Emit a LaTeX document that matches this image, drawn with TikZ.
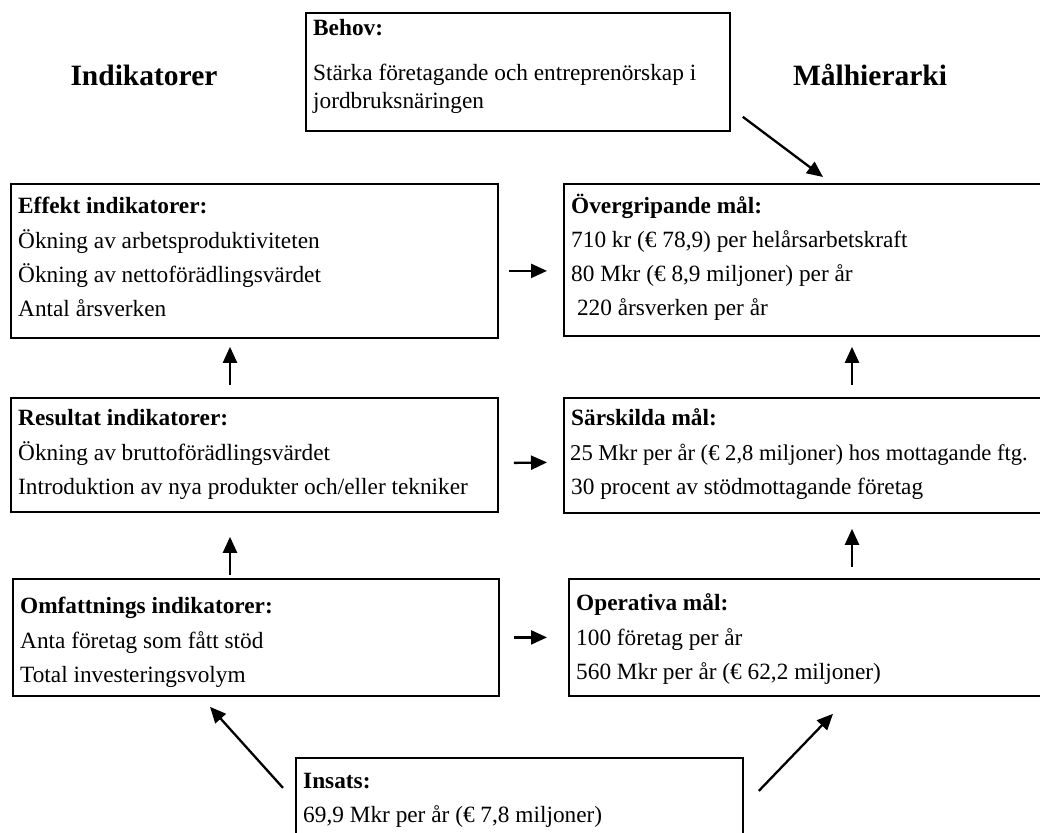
\documentclass[tikz,border=0pt]{standalone}
\usepackage{fontspec}
\setmainfont{Liberation Serif}
\usetikzlibrary{arrows.meta,calc}
\newcommand\bodyfont{\fontsize{23.3}{27}\selectfont}
\newcommand\titlefont{\fontsize{29.5}{33}\selectfont\bfseries}
\tikzset{
  box/.style={draw, line width=1.8pt, rectangle, anchor=north west, inner sep=0pt},
  txt/.style={anchor=west, inner sep=0pt, text height=16pt, text depth=5pt, font=\bodyfont},
  hd/.style={txt, font=\bodyfont\bfseries},
  ttl/.style={inner sep=0pt, font=\titlefont},
  arr/.style={line width=2.3pt, -{Triangle[length=16pt,width=14pt]}}
}
\begin{document}
\begin{tikzpicture}[x=1pt,y=-1pt]
\clip (0,0) rectangle (1040,832);
\fill[white] (0,0) rectangle (1040,832);

% titles
\node[ttl] (tind) at (144,75) {Indikatorer};
\node[ttl] (tmal) at (870,75) {Målhierarki};

% Behov
\node[box, minimum width=424, minimum height=118] (behov) at (305,12) {};
\node[hd] (behovh) at (313,30) {Behov:};
\node[txt] (behov1) at (313,75) {Stärka företagande och entreprenörskap i};
\node[txt] (behov2) at (313,103) {jordbruksnäringen};

% Effekt
\node[box, minimum width=487, minimum height=154] (effekt) at (10,183) {};
\node[hd] (effh) at (18,208) {Effekt indikatorer:};
\node[txt] (eff1) at (18,243) {Ökning av arbetsproduktiviteten};
\node[txt] (eff2) at (18,277) {Ökning av nettoförädlingsvärdet};
\node[txt] (eff3) at (18,311) {Antal årsverken};

% Resultat
\node[box, minimum width=487, minimum height=114] (resultat) at (10,397) {};
\node[hd] (resh) at (18,420) {Resultat indikatorer:};
\node[txt] (res1) at (18,455) {Ökning av bruttoförädlingsvärdet};
\node[txt] (res2) at (18,489) {Introduktion av nya produkter och/eller tekniker};

% Omfattnings
\node[box, minimum width=486, minimum height=117] (omf) at (12,578) {};
\node[hd] (omfh) at (20,608) {Omfattnings indikatorer:};
\node[txt] (omf1) at (20,643) {Anta företag som fått stöd};
\node[txt] (omf2) at (20,677) {Total investeringsvolym};

% Overgripande
\node[box, minimum width=500, minimum height=152] (over) at (563,183) {};
\node[hd] (overh) at (571,208) {Övergripande mål:};
\node[txt] (over1) at (571,242) {710 kr (€ 78,9) per helårsarbetskraft};
\node[txt] (over2) at (571,276) {80 Mkr (€ 8,9 miljoner) per år};
\node[txt] (over3) at (571,310) {\ 220 årsverken per år};

% Sarskilda
\node[box, minimum width=500, minimum height=115] (sars) at (563,397) {};
\node[hd] (sarsh) at (571,420) {Särskilda mål:};
\node[txt, font=\fontsize{22.6}{27}\selectfont] (sars1) at (570,455) {25 Mkr per år (€ 2,8 miljoner) hos mottagande ftg.};
\node[txt] (sars2) at (571,489) {30 procent av stödmottagande företag};

% Operativa
\node[box, minimum width=500, minimum height=117] (oper) at (568,578) {};
\node[hd] (operh) at (576,605) {Operativa mål:};
\node[txt] (oper1) at (576,640) {100 företag per år};
\node[txt] (oper2) at (576,674) {560 Mkr per år (€ 62,2 miljoner)};

% Insats
\node[box, minimum width=447, minimum height=100] (insats) at (295,757) {};
\node[hd] (insh) at (303,783) {Insats:};
\node[txt] (ins1) at (303,817) {69,9 Mkr per år (€ 7,8 miljoner)};

% arrows
\draw[arr] ($(behov.south east)+(12,-15)$) -- ($(over.north west)+(260,-6)$);
\draw[arr] ($(effekt.east)+(10,10)$) -- ($(over.west)+(-16,11)$);
\draw[arr] ($(resultat.east)+(15,8)$) -- ($(sars.west)+(-16,7)$);
\draw[arr] ($(omf.east)+(14,0)$) -- ($(oper.west)+(-21,0)$);
\draw[arr] ($(resultat.north west)+(220,-12)$) -- ($(effekt.south west)+(220,8)$);
\draw[arr] ($(omf.north west)+(218,-3)$) -- ($(resultat.south west)+(220,24)$);
\draw[arr] ($(sars.north west)+(289,-12)$) -- ($(over.south west)+(289,10)$);
\draw[arr] ($(oper.north west)+(284,-11)$) -- ($(sars.south west)+(289,15)$);
\draw[arr] ($(insats.west)+(-12,-20)$) -- ($(omf.south west)+(198,10)$);
\draw[arr] ($(insats.east)+(15,-17)$) -- ($(oper.south west)+(265,17)$);
\end{tikzpicture}
\end{document}
